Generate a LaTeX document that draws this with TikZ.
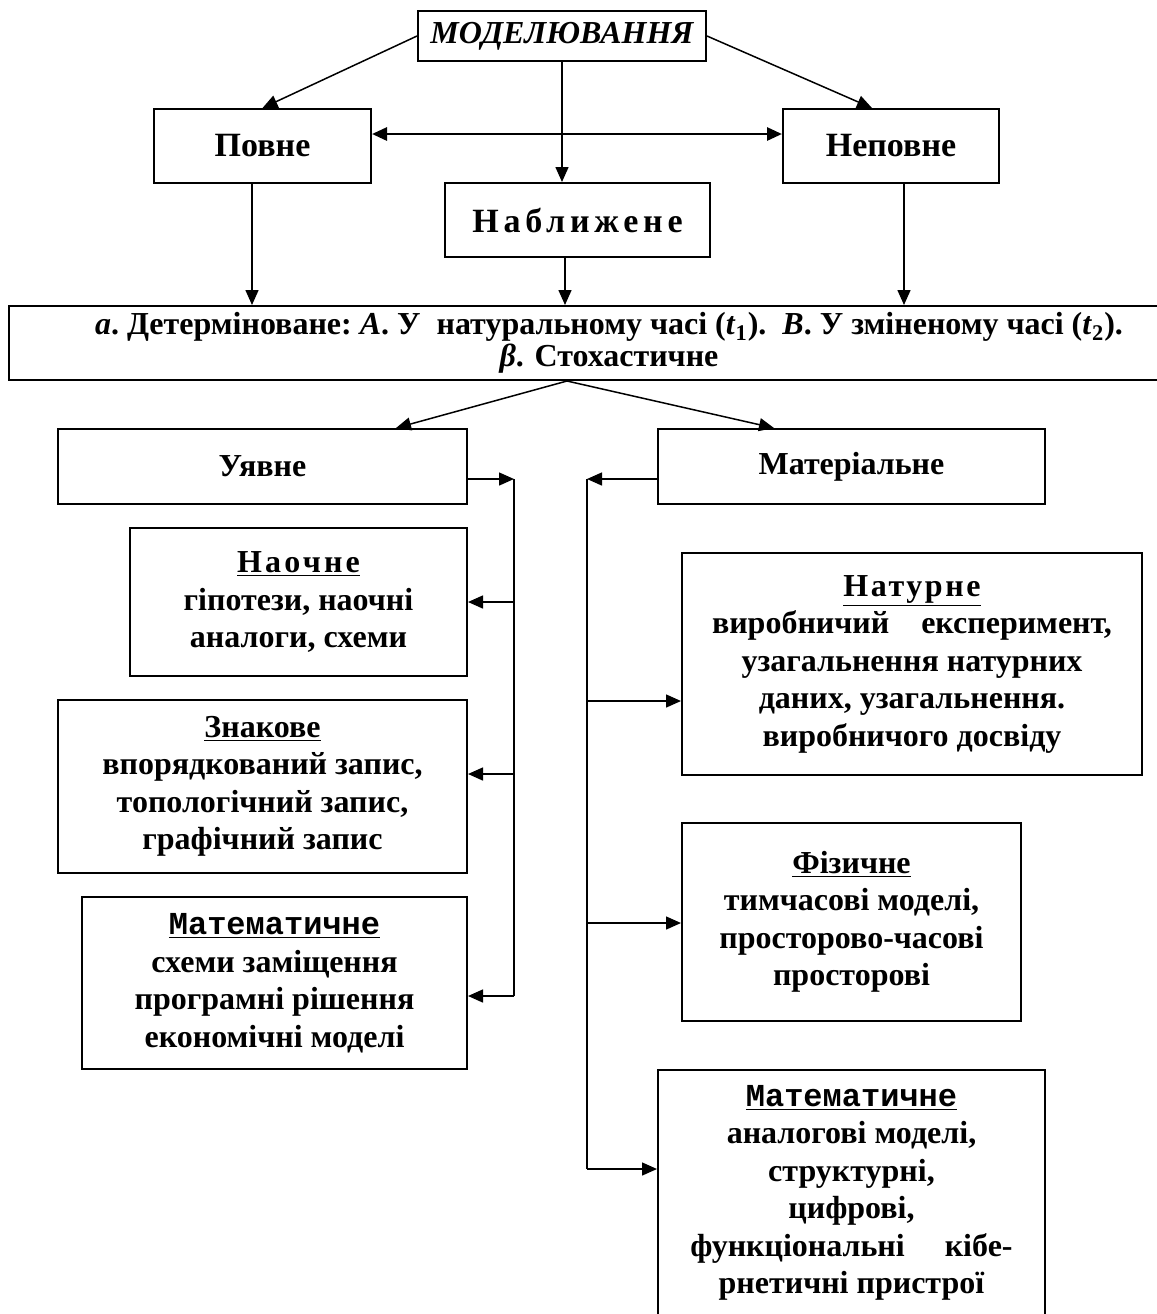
\documentclass[tikz,border=0pt]{standalone}
\usepackage{fontspec}
\setmainfont{Liberation Serif}
\setmonofont{Liberation Mono}
\usetikzlibrary{positioning, arrows.meta, calc}
\newcommand{\spaced}[2]{{\addfontfeatures{LetterSpace=#1}#2}}
\tikzset{
  box/.style={
    draw,
    line width=1pt,
    fill=white,
    align=center,
    inner sep=2pt,
    font=\fontsize{16}{18.75}\selectfont\bfseries
  },
  bigbox/.style={
    box,
    font=\fontsize{17}{20}\selectfont\bfseries
  },
  flow/.style={
    -{Triangle[length=7.5pt,width=6.5pt]},
    line width=0.75pt
  },
  both/.style={
    {Triangle[length=7.5pt,width=6.5pt]}-{Triangle[length=7.5pt,width=6.5pt]},
    line width=1.4pt
  },
  link/.style={
    line width=0.75pt
  }
}

\begin{document}
\begin{tikzpicture}[x=0.5pt, y=-0.5pt]
  \useasboundingbox (0,0) rectangle (1157,1314);

  % upper level
  \node[box, minimum width=144pt, minimum height=25pt] (model) at (562,36) {\itshape МОДЕЛЮВАННЯ};
  \node[bigbox, minimum width=108.5pt, minimum height=37pt] (full) at (262.5,146) {Повне};
  \node[bigbox, minimum width=108pt, minimum height=37pt] (partial) at (891,146) {Неповне};
  \node[bigbox, minimum width=132.5pt, minimum height=37pt] (approx) at (577.5,220) {\spaced{14}{Наближене}};
  \node[box, minimum width=600pt, minimum height=37pt, font=\fontsize{16}{12.5}\selectfont\bfseries] (kinds) at (609,343)
    {\textit{a}.\ Детерміноване:\ \textit{A}. У\ \ натуральному часі (\textit{t}\textsubscript{1}).\ \ \textit{B}. У зміненому часі (\textit{t}\textsubscript{2}).\\ \textit{β}. Стохастичне};

  % lower level
  \node[box, minimum width=204.5pt, minimum height=37.5pt] (imag) at (262.5,466.5) {Уявне};
  \node[box, minimum width=193.5pt, minimum height=37.5pt] (mater) at (851.5,466.5) {Матеріальне};
  \node[box, minimum width=168.5pt, minimum height=74pt] (visual) at (298.5,602)
    {\underline{\spaced{10}{Наочне}}\\гіпотези, наочні\\аналоги, схеми};
  \node[box, minimum width=204.5pt, minimum height=86.5pt] (sign) at (262.5,786.5)
    {\underline{Знакове}\\впорядкований запис,\\топологічний запис,\\графічний запис};
  \node[box, minimum width=192.5pt, minimum height=86pt] (mathl) at (274.5,983)
    {\underline{\ttfamily Математичне}\\схеми заміщення\\програмні рішення\\економічні моделі};
  \node[box, minimum width=230pt, minimum height=111pt] (natur) at (912,664)
    {\underline{\spaced{8}{Натурне}}\\виробничий\quad експеримент,\\узагальнення натурних\\даних, узагальнення.\\виробничого досвіду};
  \node[box, minimum width=169.5pt, minimum height=99pt] (phys) at (851.5,922)
    {\underline{Фізичне}\\тимчасові моделі,\\просторово-часові\\просторові};
  \node[box, minimum width=193.5pt, minimum height=123pt] (mathr) at (851.5,1193)
    {\underline{\ttfamily Математичне}\\аналогові моделі,\\структурні,\\цифрові,\\функціональні\quad\ кібе-\\рнетичні пристрої};

  % connectors, upper level
  \draw[flow] (model.west) -- (full.north);
  \draw[flow] (model.east) -- ([xshift=-9.5pt]partial.north);
  \draw[flow] (model.south) -- (model.south |- approx.north);
  \draw[both] ([yshift=6pt]full.east) -- ([yshift=6pt]partial.west);
  \draw[flow] ([xshift=-5.25pt]full.south) -- ([xshift=-5.25pt]full.south |- kinds.north);
  \draw[flow] ([xshift=-6.25pt]approx.south) -- ([xshift=-6.25pt]approx.south |- kinds.north);
  \draw[flow] ([xshift=6.5pt]partial.south) -- ([xshift=6.5pt]partial.south |- kinds.north);

  \coordinate (fork) at ([xshift=-21pt]kinds.south);
  \draw[flow] (fork) -- ([xshift=66.75pt]imag.north);
  \draw[flow] (fork) -- ([xshift=-38.75pt]mater.north);

  % left bus
  \coordinate (lt0) at (514,479);
  \coordinate (lt1) at (514,602);
  \coordinate (lt2) at (514,774);
  \coordinate (lt3) at (514,996);
  \draw[flow] (lt0 -| imag.east) -- (lt0);
  \draw[link] (lt0) -- (lt3);
  \foreach \t/\b in {lt1/visual, lt2/sign, lt3/mathl}
    \draw[flow] (\t) -- (\t -| \b.east);

  % right bus
  \coordinate (rt0) at (587,479);
  \coordinate (rt1) at (587,701);
  \coordinate (rt2) at (587,923);
  \coordinate (rt3) at (587,1169);
  \draw[flow] (rt0 -| mater.west) -- (rt0);
  \draw[link] (rt0) -- (rt3);
  \foreach \t/\b in {rt1/natur, rt2/phys, rt3/mathr}
    \draw[flow] (\t) -- (\t -| \b.west);
\end{tikzpicture}
\end{document}
